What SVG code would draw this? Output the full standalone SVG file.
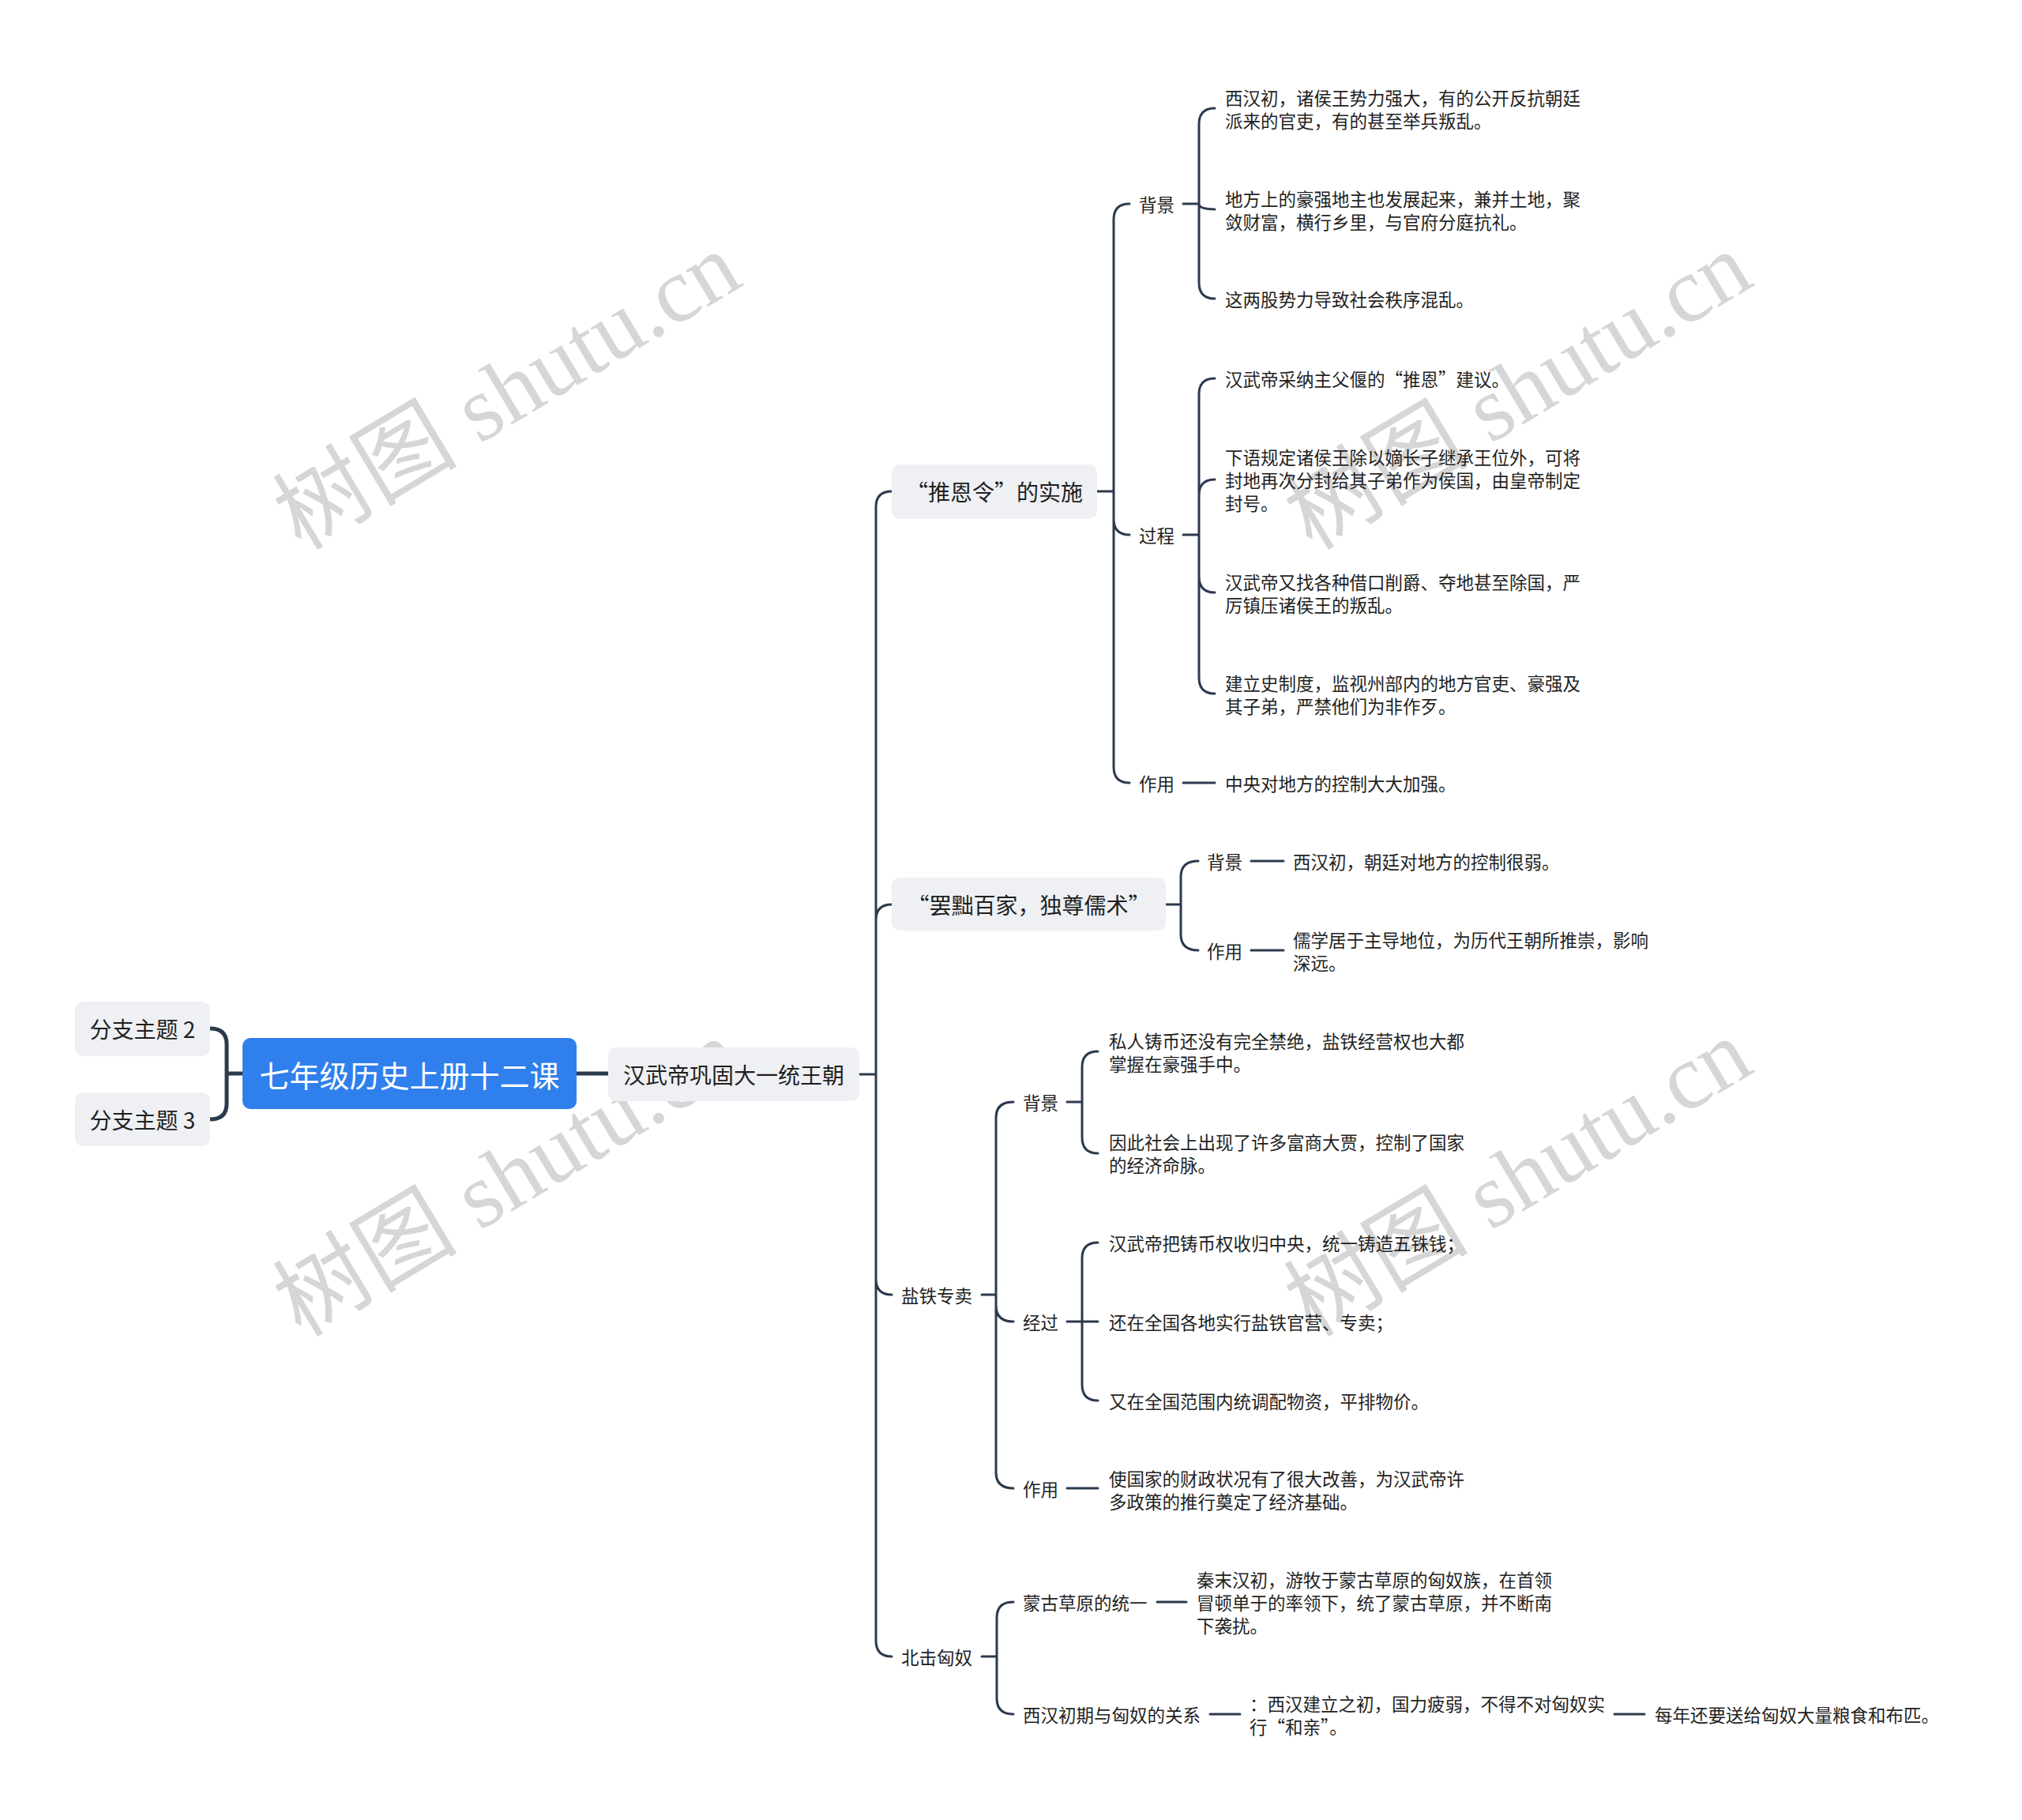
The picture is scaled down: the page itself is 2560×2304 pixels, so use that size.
<svg xmlns="http://www.w3.org/2000/svg" width="2560" height="2304" viewBox="0 0 2560 2304">
<style>
.t{font-family:"Noto Sans CJK SC","Liberation Sans",sans-serif;fill:#1f1f1f;dominant-baseline:central}
.s{font-size:22.5px}
.m{font-size:28px}
.r{font-size:38px;fill:#ffffff}
.box{fill:#eef0f3}
.c{fill:none;stroke:#2c3a4e;stroke-width:3;stroke-linecap:round}
.c5{stroke-width:5}
.wm{font-family:"Liberation Serif","Noto Sans CJK SC",serif;font-size:117px;fill:#d6d6d6}
</style>
<rect width="2560" height="2304" fill="#ffffff"/>
<g id="watermarks">
<text class="wm" x="381" y="698" transform="rotate(-31 381 698)">树图 shutu.cn</text>
<text class="wm" x="1661" y="698" transform="rotate(-31 1661 698)">树图 shutu.cn</text>
<text class="wm" x="381" y="1694" transform="rotate(-31 381 1694)">树图 shutu.cn</text>
<text class="wm" x="1661" y="1694" transform="rotate(-31 1661 1694)">树图 shutu.cn</text>
</g>
<g id="connectors">
<path class="c c5" d="M266 1302 Q287 1302 287 1322 V1397 Q287 1417 266 1417 M287 1359 H307"/>
<path class="c c5" d="M730 1359 H770"/>
<path class="c" d="M1088 1360 H1109 M1109 1360 V642 Q1109 622 1129 622 M1109 1360 V1165 Q1109 1145 1129 1145 M1109 1360 V1619 Q1109 1639 1129 1639 M1109 1360 V2077 Q1109 2097 1129 2097"/>
<path class="c" d="M1389 622 H1410 M1410 622 V278 Q1410 258 1430 258 M1410 622 V657 Q1410 677 1430 677 M1410 622 V971 Q1410 991 1430 991"/>
<path class="c" d="M1498 258 H1518 M1518 258 V157 Q1518 137 1538 137 M1518 258 Q1518 265 1538 265 M1518 258 V358 Q1518 378 1538 378"/>
<path class="c" d="M1498 677 H1518 M1518 677 V499 Q1518 479 1538 479 M1518 677 V627 Q1518 607 1538 607 M1518 677 V730 Q1518 750 1538 750 M1518 677 V858 Q1518 878 1538 878"/>
<path class="c" d="M1498 991 H1538"/>
<path class="c" d="M1476 1145 H1495 M1495 1145 V1110 Q1495 1090 1517 1090 M1495 1145 V1183 Q1495 1203 1517 1203"/>
<path class="c" d="M1584 1090 H1625 M1584 1203 H1625"/>
<path class="c" d="M1243 1639 H1261 M1261 1639 V1415 Q1261 1395 1283 1395 M1261 1639 V1653 Q1261 1673 1283 1673 M1261 1639 V1864 Q1261 1884 1283 1884"/>
<path class="c" d="M1351 1395 H1370 M1370 1395 V1351 Q1370 1331 1390 1331 M1370 1395 V1440 Q1370 1460 1390 1460"/>
<path class="c" d="M1351 1673 H1390 M1370 1673 V1593 Q1370 1573 1390 1573 M1370 1673 V1753 Q1370 1773 1390 1773"/>
<path class="c" d="M1351 1884 H1390"/>
<path class="c" d="M1243 2097 H1262 M1262 2097 V2048 Q1262 2028 1283 2028 M1262 2097 V2150 Q1262 2170 1283 2170"/>
<path class="c" d="M1465 2028 H1502 M1532 2170 H1570 M2044 2170 H2082"/>
</g>
<g id="root"><rect x="307" y="1314" width="423" height="90" rx="10" fill="#2f80ed"/><text class="t r" x="518.5" y="1359" text-anchor="middle">七年级历史上册十二课</text></g>
<g id="branch2"><rect class="box" x="95" y="1268" width="171" height="69" rx="10"/><text class="t m" x="180.5" y="1302" text-anchor="middle">分支主题 2</text></g>
<g id="branch3"><rect class="box" x="95" y="1383" width="171" height="68" rx="10"/><text class="t m" x="180.5" y="1417" text-anchor="middle">分支主题 3</text></g>
<g id="main"><rect class="box" x="770" y="1326" width="318" height="68" rx="10"/><text class="t m" x="929" y="1360" text-anchor="middle">汉武帝巩固大一统王朝</text></g>
<g id="tuienling"><rect class="box" x="1129" y="588" width="260" height="69" rx="10"/><text class="t m" x="1259" y="622" text-anchor="middle">“推恩令”的实施</text></g>
<g id="te-bg"><text class="t s" x="1442" y="258">背景</text></g>
<g id="te-bg-1"><text class="t s"><tspan x="1551" y="123">西汉初，诸侯王势力强大，有的公开反抗朝廷</tspan><tspan x="1551" y="152">派来的官吏，有的甚至举兵叛乱。</tspan></text></g>
<g id="te-bg-2"><text class="t s"><tspan x="1551" y="251">地方上的豪强地主也发展起来，兼并土地，聚</tspan><tspan x="1551" y="280">敛财富，横行乡里，与官府分庭抗礼。</tspan></text></g>
<g id="te-bg-3"><text class="t s" x="1551" y="378">这两股势力导致社会秩序混乱。</text></g>
<g id="te-gc"><text class="t s" x="1442" y="677">过程</text></g>
<g id="te-gc-1"><text class="t s" x="1551" y="479">汉武帝采纳主父偃的“推恩”建议。</text></g>
<g id="te-gc-2"><text class="t s"><tspan x="1551" y="578">下语规定诸侯王除以嫡长子继承王位外，可将</tspan><tspan x="1551" y="607">封地再次分封给其子弟作为侯国，由皇帝制定</tspan><tspan x="1551" y="636">封号。</tspan></text></g>
<g id="te-gc-3"><text class="t s"><tspan x="1551" y="736">汉武帝又找各种借口削爵、夺地甚至除国，严</tspan><tspan x="1551" y="765">厉镇压诸侯王的叛乱。</tspan></text></g>
<g id="te-gc-4"><text class="t s"><tspan x="1551" y="864">建立史制度，监视州部内的地方官吏、豪强及</tspan><tspan x="1551" y="893">其子弟，严禁他们为非作歹。</tspan></text></g>
<g id="te-zy"><text class="t s" x="1442" y="991">作用</text></g>
<g id="te-zy-1"><text class="t s" x="1551" y="991">中央对地方的控制大大加强。</text></g>
<g id="bachu"><rect class="box" x="1129" y="1111" width="347" height="67" rx="10"/><text class="t m" x="1302.5" y="1145" text-anchor="middle">“罢黜百家，独尊儒术”</text></g>
<g id="bc-bg"><text class="t s" x="1528" y="1090">背景</text></g>
<g id="bc-bg-1"><text class="t s" x="1637" y="1090">西汉初，朝廷对地方的控制很弱。</text></g>
<g id="bc-zy"><text class="t s" x="1528" y="1203">作用</text></g>
<g id="bc-zy-1"><text class="t s"><tspan x="1637" y="1189">儒学居于主导地位，为历代王朝所推崇，影响</tspan><tspan x="1637" y="1218">深远。</tspan></text></g>
<g id="yantie"><text class="t s" x="1141" y="1639">盐铁专卖</text></g>
<g id="yt-bg"><text class="t s" x="1295" y="1395">背景</text></g>
<g id="yt-bg-1"><text class="t s"><tspan x="1404" y="1317">私人铸币还没有完全禁绝，盐铁经营权也大都</tspan><tspan x="1404" y="1346">掌握在豪强手中。</tspan></text></g>
<g id="yt-bg-2"><text class="t s"><tspan x="1404" y="1445">因此社会上出现了许多富商大贾，控制了国家</tspan><tspan x="1404" y="1474">的经济命脉。</tspan></text></g>
<g id="yt-jg"><text class="t s" x="1295" y="1673">经过</text></g>
<g id="yt-jg-1"><text class="t s" x="1404" y="1573">汉武帝把铸币权收归中央，统一铸造五铢钱；</text></g>
<g id="yt-jg-2"><text class="t s" x="1404" y="1673">还在全国各地实行盐铁官营、专卖；</text></g>
<g id="yt-jg-3"><text class="t s" x="1404" y="1773">又在全国范围内统调配物资，平排物价。</text></g>
<g id="yt-zy"><text class="t s" x="1295" y="1884">作用</text></g>
<g id="yt-zy-1"><text class="t s"><tspan x="1404" y="1871">使国家的财政状况有了很大改善，为汉武帝许</tspan><tspan x="1404" y="1900">多政策的推行奠定了经济基础。</tspan></text></g>
<g id="beiji"><text class="t s" x="1141" y="2097">北击匈奴</text></g>
<g id="bj-mg"><text class="t s" x="1295" y="2028">蒙古草原的统一</text></g>
<g id="bj-mg-1"><text class="t s"><tspan x="1515" y="1999">秦末汉初，游牧于蒙古草原的匈奴族，在首领</tspan><tspan x="1515" y="2028">冒顿单于的率领下，统了蒙古草原，并不断南</tspan><tspan x="1515" y="2057">下袭扰。</tspan></text></g>
<g id="bj-gx"><text class="t s" x="1295" y="2170">西汉初期与匈奴的关系</text></g>
<g id="bj-gx-1"><text class="t s"><tspan x="1582" y="2156">：西汉建立之初，国力疲弱，不得不对匈奴实</tspan><tspan x="1582" y="2185">行“和亲”。</tspan></text></g>
<g id="bj-gx-2"><text class="t s" x="2095" y="2170">每年还要送给匈奴大量粮食和布匹。</text></g>
</svg>
